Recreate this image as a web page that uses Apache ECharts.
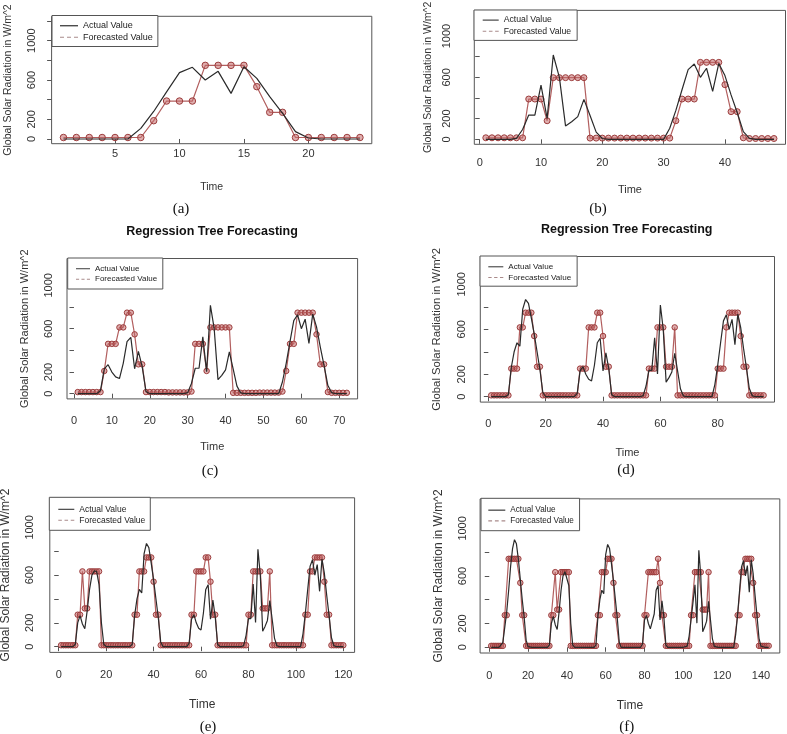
<!DOCTYPE html>
<html><head><meta charset="utf-8">
<script src="https://cdn.jsdelivr.net/npm/echarts@6/dist/echarts.min.js"></script>
<style>html,body{margin:0;padding:0;background:#fff}#c{width:787px;height:734px}</style>
</head><body><div id="c"></div>
<script>
// ---- Actual values, one array per day (W/m^2) ----
const dayA = [0,0,0,0,0,0,108,280,480,675,729,600,688,464,735,617,430,260,75,10,0,0,0,0];
const dayB = [0,0,0,0,0,10,95,235,235,525,203,816,600,130,170,220,387,230,70,8,0,0,0,0];
const dayC = [0,0,0,0,0,0,30,230,268,200,155,140,280,480,520,230,390,250,20,0,0,0,0,0];
const dayD = [0,0,0,0,0,0,20,260,400,480,450,780,865,830,700,560,400,240,40,0,0,0,0,0];
const dayE = [0,0,0,0,0,0,20,200,260,190,150,300,480,600,635,630,520,200,20,0,0,0,0,0];
const dayF = [0,0,0,0,0,0,40,170,300,480,680,830,905,870,740,570,400,250,60,5,0,0,0,0];

// ---- Forecasted values per panel ----
const fcA = [15,15,15,15,15,15,15,186,386,386,386,749,749,749,749,532,271,271,15,15,15,15,15,15];
const fcB = [15,15,15,15,15,15,15,390,390,390,180,597,597,597,597,597,597,12,12,12,12,12,12,12,
             12,12,12,12,12,12,12,180,390,390,390,745,745,745,745,529,268,268,15,8,8,8,8,8];
const fcC = [15,15,15,15,15,15,15,210,460,460,460,612,612,748,748,548,271,271,15,15,15,15,15,15,
             12,12,12,12,12,12,20,460,460,460,210,612,612,612,612,612,612,8,8,8,8,8,8,8,
             10,10,10,10,10,10,20,210,460,460,748,748,748,748,748,548,271,271,15,8,8,8,8,8];
const fcD = [12,12,12,12,12,12,12,250,250,250,617,617,748,748,748,540,267,267,12,12,12,12,12,12,
             12,12,12,12,12,12,12,250,250,250,617,617,617,748,748,540,267,267,12,12,12,12,12,12,
             12,12,12,12,12,12,12,250,250,250,617,617,617,267,267,267,617,12,12,12,12,12,12,12,
             12,12,12,12,12,12,12,250,250,250,617,748,748,748,748,540,267,267,12,12,12,12,12,12];
const fcE = [12,12,12,12,12,12,12,268,268,631,321,321,631,631,631,631,631,12,12,12,12,12,12,12,
             12,12,12,12,12,12,12,268,268,631,631,631,748,748,748,545,268,268,12,12,12,12,12,12,
             12,12,12,12,12,12,12,268,268,631,631,631,631,748,748,545,268,268,12,12,12,12,12,12,
             12,12,12,12,12,12,12,268,268,631,631,631,631,321,321,321,631,12,12,12,12,12,12,12,
             12,12,12,12,12,12,12,268,268,631,631,748,748,748,748,545,268,268,12,12,12,12,12,12];
const fcF = [12,12,12,12,12,12,12,270,270,744,744,744,744,744,744,542,270,270,12,12,12,12,12,12,
             12,12,12,12,12,12,12,270,270,632,317,317,632,632,632,632,632,12,12,12,12,12,12,12,
             12,12,12,12,12,12,12,270,270,632,632,632,744,744,744,542,270,270,12,12,12,12,12,12,
             12,12,12,12,12,12,12,270,270,632,632,632,632,632,744,542,270,270,12,12,12,12,12,12,
             12,12,12,12,12,12,12,270,270,632,632,632,632,317,317,317,632,12,12,12,12,12,12,12,
             12,12,12,12,12,12,12,270,270,632,632,744,744,744,744,542,270,270,12,12,12,12,12,12];

// ---- Tick values and texts ----
const yTickValues = [0,200,400,600,800,1000,1200];
const yLabelValues = [0,200,600,1000];
const xTicksA = [5,10,15,20];
const xTicksB = [0,10,20,30,40];
const xTicksC = [0,10,20,30,40,50,60,70];
const xTicksD = [0,20,40,60,80];
const xTicksE = [0,20,40,60,80,100,120];
const xTicksF = [0,20,40,60,80,100,120,140];
const captions = ['(a)','(b)','(c)','(d)','(e)','(f)'];
const chartTitle = 'Regression Tree Forecasting';
const nameActual = 'Actual Value';
const nameForecast = 'Forecasted Value';
const xName = 'Time';
const yName = 'Global Solar Radiation in W/m^2';

const actualSets = [
  dayA,
  [].concat(dayB, dayA),
  [].concat(dayC, dayB, dayA),
  [].concat(dayD, dayC, dayB, dayA),
  [].concat(dayE, dayD, dayC, dayB, dayA),
  [].concat(dayF, dayE, dayD, dayC, dayB, dayA)
];
const forecastSets = [fcA, fcB, fcC, fcD, fcE, fcF];
const xTickSets = [xTicksA, xTicksB, xTicksC, xTicksD, xTicksE, xTicksF];

// ---- Layout (pixels) ----
const L = [
  {left:51.6, top:16.3, w:320.2, h:127.4, pad:0.92, xm:5,  ym:14,  tf:11,  yt:[8,10.5],   tt:[187,10.5], cap:[181,209], ttl:null,
   lg:{left:52, top:15.5, p:[5,5,4,8], iw:18, f:9}, ss:6.5},
  {left:474.3, top:10.4, w:311.2, h:133.9, pad:1.88, xm:13, ym:22, tf:11, yt:[428.3,10.5], tt:[190,11], cap:[598,209], ttl:null,
   lg:{left:474, top:10, p:[5,6,4,8.7], iw:16, f:8.7}, ss:6},
  {left:67, top:258.5, w:290.6, h:140.4, pad:2.84, xm:16.5, ym:12.2, tf:11, yt:[25,11], tt:[447,11], cap:[210,471], ttl:[212,231.7],
   lg:{left:67.7, top:258, p:[6,5.7,5,8.3], iw:14, f:8}, ss:5.5},
  {left:480.3, top:256.5, w:294.2, h:145.6, pad:3.8, xm:16, ym:13, tf:11, yt:[437.3,11.3], tt:[453,11], cap:[626,470], ttl:[626.7,230],
   lg:{left:480, top:256, p:[6,6,4,8.3], iw:15, f:8.1}, ss:5.5},
  {left:49.8, top:497.8, w:304.8, h:154.6, pad:4.76, xm:17.3, ym:14.3, tf:11, yt:[6,12], tt:[705,12], cap:[208,726.7], ttl:null,
   lg:{left:49.3, top:497.3, p:[7,5,5,9], iw:16, f:8.5}, ss:5.5},
  {left:480.1, top:498.9, w:299.7, h:154.1, pad:5.72, xm:17.7, ym:12, tf:11, yt:[438.3,12], tt:[706,12], cap:[626.7,726.7], ttl:null,
   lg:{left:481, top:498.3, p:[7,5.7,5,7.3], iw:17, f:8.2}, ss:5.5}
];

const FONT = '"Liberation Sans", Arial, Helvetica, sans-serif';
const SERIF = '"Liberation Serif", "Times New Roman", serif';
const boxColor = '#555';
const txtColor = '#333';

const grids = [], xAxes = [], yAxes = [], series = [], legends = [], graphics = [];

const solidIcon = 'path://M0,0 H18 V1.2 H0 Z';
const dashIcon = 'path://M0,0 H4 V1.2 H0 Z M7,0 H11 V1.2 H7 Z M14,0 H18 V1.2 H14 Z';
const plainNumber = v => String(v);

L.forEach((c, k) => {
  const n = actualSets[k].length;
  grids.push({left:c.left, top:c.top, width:c.w, height:c.h, show:true, borderColor:boxColor, borderWidth:1, backgroundColor:'transparent', containLabel:false});
  xAxes.push({
    type:'value', gridIndex:k, min:1 - c.pad, max:n + c.pad,
    axisLine:{show:false}, splitLine:{show:false},
    axisTick:{show:true, inside:false, length:4.5, customValues:xTickSets[k], lineStyle:{color:boxColor, width:1}},
    axisLabel:{show:true, customValues:xTickSets[k], formatter:plainNumber, margin:c.xm, fontSize:c.tf, color:txtColor, fontFamily:FONT}
  });
  yAxes.push({
    type:'value', gridIndex:k, min:-48, max:1248,
    axisLine:{show:false}, splitLine:{show:false},
    axisTick:{show:true, inside:false, length:4.5, customValues:yTickValues, lineStyle:{color:boxColor, width:1}},
    axisLabel:{show:true, customValues:yLabelValues, formatter:plainNumber, rotate:90, margin:c.ym, fontSize:c.tf, color:txtColor, fontFamily:FONT}
  });
  series.push({
    name:nameForecast, type:'line', xAxisIndex:k, yAxisIndex:k,
    data:forecastSets[k].map((v,i)=>[i+1, v]),
    symbol:'circle', symbolSize:c.ss, showSymbol:true,
    lineStyle:{color:'#b25f5f', width:1.2},
    itemStyle:{color:'rgba(196,108,108,0.55)', borderColor:'#9c3c3c', borderWidth:1},
    animation:false, silent:true, z:2
  });
  series.push({
    name:nameActual, type:'line', xAxisIndex:k, yAxisIndex:k,
    data:actualSets[k].map((v,i)=>[i+1, v]),
    symbol:'none', showSymbol:false,
    lineStyle:{color:'#2a2a2a', width:1.2},
    itemStyle:{color:'#2a2a2a'},
    animation:false, silent:true, z:3
  });
  legends.push({
    orient:'vertical', left:c.lg.left, top:c.lg.top, padding:c.lg.p,
    itemWidth:c.lg.iw, itemHeight:8, itemGap:1,
    borderColor:boxColor, borderWidth:1, backgroundColor:'#fff',
    selectedMode:false,
    textStyle:{fontSize:c.lg.f, color:'#222', fontFamily:FONT, lineHeight:c.lg.f + 1.5},
    data:[
      {name:nameActual, icon:solidIcon, itemStyle:{color:'#2e2e2e', borderWidth:0}},
      {name:nameForecast, icon:dashIcon, itemStyle:{color:'#a98a8a', borderWidth:0}}
    ]
  });
  graphics.push({type:'text', x:c.left + c.w/2, y:c.tt[0], style:{text:xName, fill:txtColor, font:c.tt[1]+'px '+FONT, textAlign:'center', textVerticalAlign:'middle'}});
  graphics.push({type:'text', x:c.yt[0], y:c.top + c.h/2, rotation:Math.PI/2, style:{text:yName, fill:txtColor, font:c.yt[1]+'px '+FONT, textAlign:'center', textVerticalAlign:'middle'}});
  graphics.push({type:'text', x:c.cap[0], y:c.cap[1], style:{text:captions[k], fill:'#111', font:'15px '+SERIF, textAlign:'center', textVerticalAlign:'middle'}});
  if (c.ttl) {
    graphics.push({type:'text', x:c.ttl[0], y:c.ttl[1], style:{text:chartTitle, fill:'#111', font:'bold 12.5px '+FONT, textAlign:'center', textVerticalAlign:'middle'}});
  }
});

const chart = echarts.init(document.getElementById('c'), null, {renderer:'canvas'});
chart.setOption({
  backgroundColor:'#fff',
  animation:false,
  grid:grids, xAxis:xAxes, yAxis:yAxes, series:series, legend:legends,
  graphic:{elements:graphics}
});
</script>
</body></html>
